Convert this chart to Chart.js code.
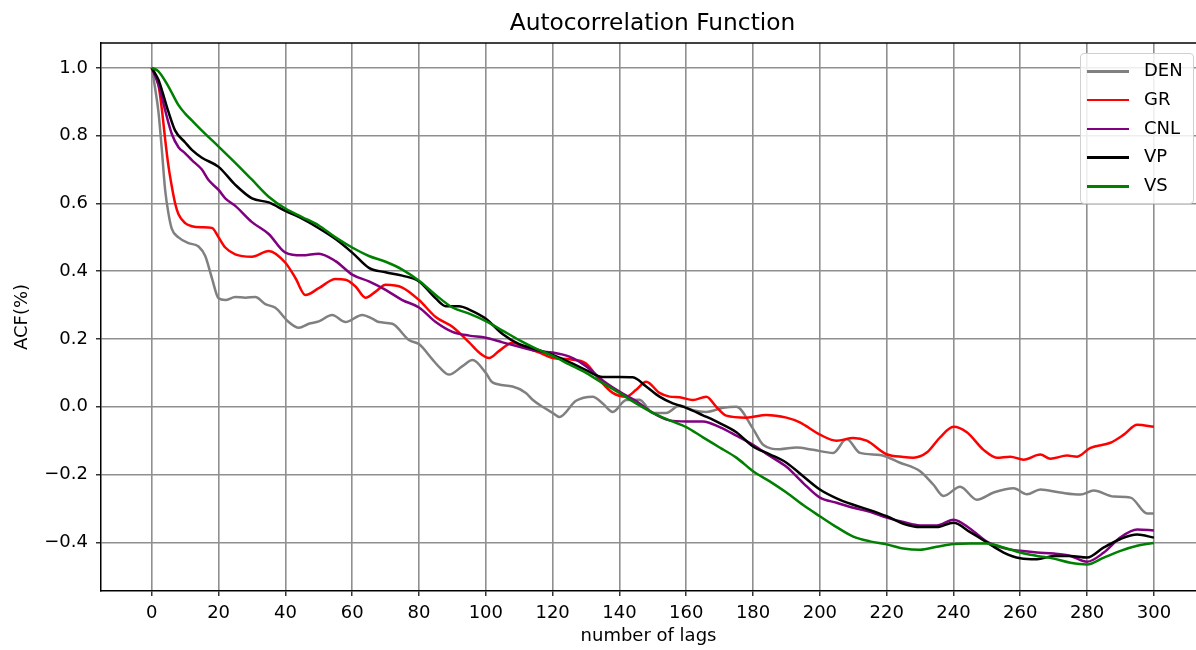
<!DOCTYPE html>
<html>
<head>
<meta charset="utf-8">
<script src="https://cdn.jsdelivr.net/npm/chart.js@4.4.1/dist/chart.umd.min.js"></script>
<style>
  html, body { margin:0; padding:0; background:#fff; overflow:hidden; width:1196px; height:650px; }
  #wrap { position:absolute; left:0; top:0; width:1196px; height:650px; }
  #title { position:absolute; left:402.5px; top:9px; width:500px; text-align:center; font-family:"DejaVu Sans", sans-serif; font-size:23.3px; line-height:26px; color:#000; white-space:nowrap; }
  #legend { position:absolute; left:1080px; top:53px; width:112px; height:149px; border:1px solid #d0d0d0; border-radius:4px; background:rgba(255,255,255,0.85); font-family:"DejaVu Sans", sans-serif; font-size:18px; color:#000; }
  .row { position:absolute; left:0; height:20px; width:112px; }
  .sw { position:absolute; left:6px; top:9px; width:42px; height:2.5px; }
  .lb { position:absolute; left:63px; top:-2px; line-height:22px; }
</style>
</head>
<body>
<div id="wrap"><canvas id="c" width="1196" height="650"></canvas></div>
<div id="title">Autocorrelation Function</div>
<div id="legend"></div>
<script>
const seriesNames = ["DEN", "GR", "CNL", "VP", "VS"];
const seriesColors = ["#808080", "#ff0000", "#800080", "#000000", "#008000"];
const xTicks = [0,20,40,60,80,100,120,140,160,180,200,220,240,260,280,300];
const yTicks = [-0.4,-0.2,0.0,0.2,0.4,0.6,0.8,1.0];

const denLags = [0,1,2,3,4,5,6,8,11,14,16,18,20,22,25,28,31,34,37,41,44,47,50,54,58,63,66,68,72,77,80,84,86,89,93,96,100,102,108,112,114,117,120,122,127,132,135,138,142,146,150,154,158,162,166,171,175,180,183,188,193,198,204,208,212,218,224,230,234,237,242,247,252,258,262,266,272,278,282,288,293,298,300];
const denVals = [1.0,0.94,0.87,0.76,0.64,0.57,0.525,0.5,0.483,0.473,0.445,0.38,0.32,0.315,0.324,0.322,0.324,0.303,0.292,0.25,0.233,0.245,0.252,0.271,0.25,0.271,0.26,0.25,0.245,0.197,0.185,0.14,0.118,0.095,0.12,0.138,0.1,0.072,0.06,0.041,0.021,0.0,-0.018,-0.03,0.018,0.03,0.01,-0.015,0.02,0.021,-0.018,-0.018,0.004,-0.01,-0.015,-0.003,0.0,-0.065,-0.112,-0.125,-0.12,-0.127,-0.136,-0.095,-0.136,-0.142,-0.165,-0.19,-0.23,-0.263,-0.236,-0.274,-0.253,-0.24,-0.258,-0.244,-0.253,-0.259,-0.247,-0.265,-0.268,-0.315,-0.315];

const grLags = [0,1,2,3,4,5,6,7,8,10,12,15,18,20,22,25,30,35,40,43,46,50,55,58,61,64,67,70,75,80,85,90,95,98,101,104,108,112,116,120,125,130,134,138,142,145,148,152,155,158,162,166,169,172,178,184,190,194,200,205,210,214,220,225,228,232,236,240,244,249,253,257,261,266,269,274,277,281,287,291,295,300];
const grVals = [1.0,0.98,0.95,0.88,0.79,0.71,0.65,0.6,0.568,0.542,0.533,0.53,0.528,0.5,0.47,0.45,0.443,0.46,0.425,0.38,0.33,0.35,0.377,0.375,0.355,0.322,0.34,0.36,0.352,0.315,0.265,0.236,0.19,0.16,0.144,0.165,0.189,0.175,0.16,0.144,0.14,0.128,0.08,0.041,0.03,0.05,0.074,0.041,0.03,0.028,0.02,0.03,0.0,-0.026,-0.032,-0.024,-0.032,-0.046,-0.082,-0.1,-0.092,-0.1,-0.14,-0.148,-0.15,-0.135,-0.09,-0.059,-0.075,-0.127,-0.15,-0.147,-0.156,-0.141,-0.153,-0.144,-0.147,-0.121,-0.106,-0.082,-0.053,-0.059];

const cnlLags = [0,2,3,4,6,8,10,12,15,17,20,22,25,30,35,40,45,50,55,60,65,70,75,80,85,90,95,100,105,110,115,120,125,130,135,140,145,150,155,160,165,170,175,180,185,190,195,200,205,210,215,220,225,230,235,240,245,250,255,260,265,270,275,280,285,290,295,300];
const cnlVals = [1.0,0.95,0.915,0.875,0.805,0.766,0.748,0.728,0.7,0.669,0.64,0.615,0.593,0.545,0.51,0.455,0.447,0.452,0.43,0.39,0.37,0.345,0.315,0.293,0.25,0.221,0.21,0.204,0.19,0.177,0.165,0.16,0.148,0.12,0.078,0.045,0.017,-0.018,-0.04,-0.043,-0.043,-0.06,-0.085,-0.112,-0.145,-0.177,-0.225,-0.268,-0.283,-0.298,-0.31,-0.327,-0.34,-0.35,-0.35,-0.333,-0.36,-0.398,-0.417,-0.425,-0.43,-0.433,-0.44,-0.457,-0.43,-0.385,-0.362,-0.365];

const vpLags = [0,2,3,5,7,10,12,15,20,25,30,35,40,45,50,55,60,65,70,75,80,85,88,92,95,100,105,110,115,120,125,130,135,140,144,148,152,156,160,165,170,175,180,185,190,195,200,205,210,215,220,225,230,235,240,245,250,255,260,265,270,275,280,285,290,295,300];
const vpVals = [1.0,0.965,0.935,0.87,0.815,0.78,0.758,0.735,0.708,0.655,0.615,0.603,0.578,0.555,0.527,0.495,0.455,0.41,0.397,0.387,0.37,0.32,0.297,0.297,0.287,0.26,0.215,0.185,0.17,0.153,0.132,0.108,0.088,0.088,0.087,0.06,0.03,0.01,-0.003,-0.025,-0.048,-0.075,-0.117,-0.14,-0.165,-0.205,-0.244,-0.27,-0.289,-0.305,-0.323,-0.345,-0.355,-0.355,-0.342,-0.37,-0.4,-0.43,-0.447,-0.45,-0.44,-0.44,-0.445,-0.415,-0.39,-0.377,-0.386];

const vsLags = [0,2,5,8,10,12,15,20,25,30,35,40,45,50,55,60,65,70,75,80,85,90,95,100,105,110,115,120,125,130,135,140,145,150,155,160,165,170,175,180,185,190,195,200,205,210,215,220,225,230,235,240,245,250,255,260,265,270,275,280,285,290,295,300];
const vsVals = [1.0,0.99,0.945,0.89,0.865,0.845,0.815,0.768,0.72,0.67,0.62,0.585,0.56,0.535,0.5,0.47,0.445,0.428,0.405,0.372,0.33,0.293,0.275,0.253,0.225,0.197,0.172,0.15,0.125,0.1,0.07,0.041,0.01,-0.018,-0.04,-0.06,-0.09,-0.12,-0.15,-0.19,-0.22,-0.253,-0.29,-0.323,-0.355,-0.383,-0.397,-0.406,-0.418,-0.422,-0.413,-0.405,-0.403,-0.403,-0.415,-0.43,-0.44,-0.448,-0.46,-0.465,-0.445,-0.425,-0.41,-0.402];

const allLags = [denLags, grLags, cnlLags, vpLags, vsLags];
const allVals = [denVals, grVals, cnlVals, vpVals, vsVals];

const FONT = '"DejaVu Sans", sans-serif';

const datasets = seriesNames.map((n, i) => ({
  label: n,
  data: allLags[i].map((x, k) => ({x: x, y: allVals[i][k]})),
  borderColor: seriesColors[i],
  backgroundColor: seriesColors[i],
  borderWidth: 2.5,
  pointRadius: 0,
  cubicInterpolationMode: 'monotone',
  fill: false,
  order: seriesNames.length - i
}));

// HTML legend
const leg = document.getElementById('legend');
seriesNames.forEach((n, i) => {
  const r = document.createElement('div');
  r.className = 'row';
  r.style.top = (7 + i * 28.8) + 'px';
  r.innerHTML = '<div class="sw" style="background:' + seriesColors[i] + '"></div><div class="lb">' + n + '</div>';
  leg.appendChild(r);
});

// top spine only (the right spine lies beyond the visible window in the reference)
const frame = {
  id: 'frame',
  afterDatasetsDraw(chart) {
    const a = chart.chartArea, ctx = chart.ctx;
    ctx.save();
    ctx.strokeStyle = '#000';
    ctx.lineWidth = 1.5;
    ctx.beginPath();
    ctx.moveTo(a.left, a.top);
    ctx.lineTo(chart.width, a.top);
    ctx.stroke();
    ctx.restore();
  }
};

new Chart(document.getElementById('c'), {
  type: 'line',
  data: { datasets: datasets },
  plugins: [frame],
  options: {
    responsive: false,
    animation: false,
    events: [],
    layout: { padding: { left: 0, right: 0, top: 43, bottom: 0 } },
    plugins: {
      legend: { display: false },
      tooltip: { enabled: false },
      title: { display: false }
    },
    scales: {
      x: {
        type: 'linear',
        min: -15.2, max: 312.6,
        afterFit(s) { s.height = 59; },
        afterBuildTicks(s) { s.ticks = xTicks.map(v => ({value: v})); },
        grid: { color: '#8f8f8f', lineWidth: 1.6, drawTicks: true, tickLength: 5, tickColor: '#000', tickWidth: 1.2 },
        border: { display: true, color: '#000', width: 1.5 },
        ticks: { color: '#000', font: { family: FONT, size: 18 }, padding: 7, maxRotation: 0, autoSkip: false,
                 callback: v => String(v) },
        title: { display: true, text: 'number of lags', color: '#000',
                 font: { family: FONT, size: 18, lineHeight: 1.2 }, padding: { top: 0, bottom: 3.2 } }
      },
      y: {
        type: 'linear',
        min: -0.5435, max: 1.0735,
        afterFit(s) { s.width = 101; },
        afterBuildTicks(s) { s.ticks = yTicks.map(v => ({value: v})); },
        grid: { color: '#8f8f8f', lineWidth: 1.6, drawTicks: true, tickLength: 5, tickColor: '#000', tickWidth: 1.2 },
        border: { display: true, color: '#000', width: 1.5 },
        ticks: { color: '#000', font: { family: FONT, size: 18 }, padding: 8, autoSkip: false,
                 callback: v => v.toFixed(1).replace('-', '\u2212') },
        title: { display: true, text: 'ACF(%)', color: '#000',
                 font: { family: FONT, size: 18, lineHeight: 1.2 }, padding: { top: 11.2, bottom: 0 } }
      }
    }
  }
});
</script>
</body>
</html>
